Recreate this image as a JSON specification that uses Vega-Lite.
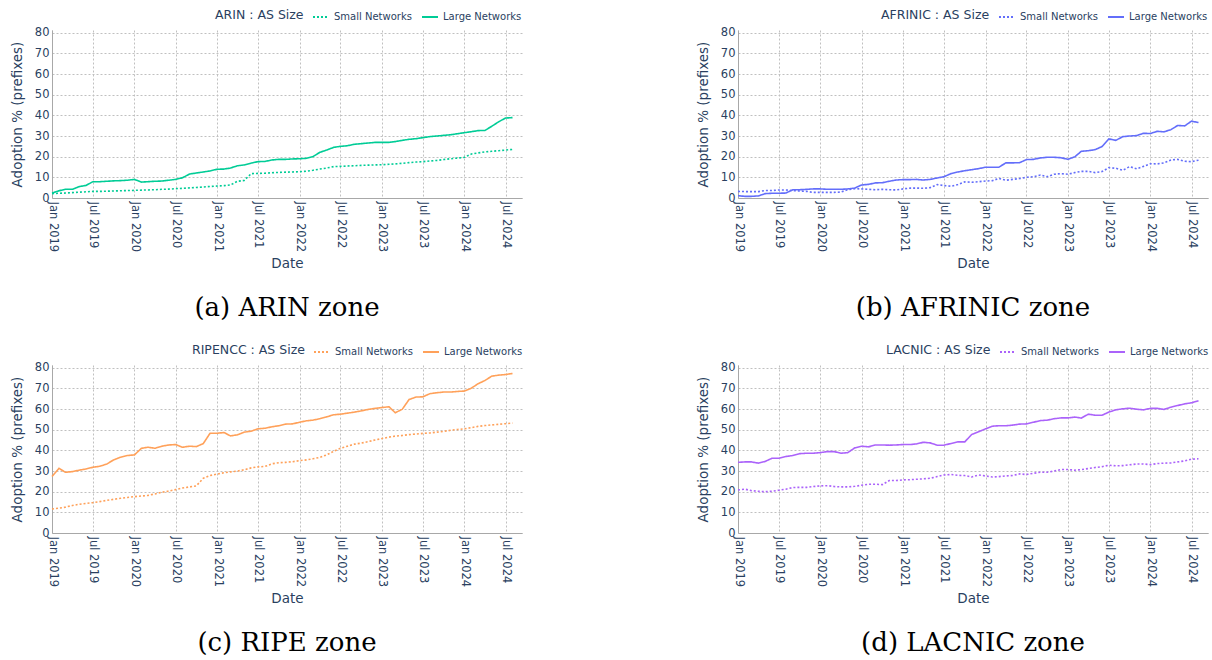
{
"$schema": "https://vega.github.io/schema/vega-lite/v6.json",
"padding": {"left": 10, "top": 8, "right": 0, "bottom": 0},
"background": "white",
"config": {
  "view": {"stroke": null},
  "font": "DejaVu Sans",
  "axis": {"labelFont": "DejaVu Sans", "labelFontSize": 11.5, "labelColor": "#2a3f5f", "titleFont": "DejaVu Sans", "titleFontSize": 13.5, "titleFontWeight": "normal", "titleColor": "#2a3f5f", "domainColor": "#a8a8a8", "domainWidth": 1, "gridColor": "#c0c0c0", "gridDash": [2, 2], "gridWidth": 1, "ticks": false, "labelPadding": 3, "labelFlush": false},
  "legend": {"titleFont": "DejaVu Sans", "titleFontSize": 12.5, "titleFontWeight": "normal", "titleColor": "#2a3f5f", "labelFont": "DejaVu Sans", "labelFontSize": 10, "labelColor": "#2a3f5f", "symbolType": "stroke", "symbolSize": 256, "symbolStrokeWidth": 2, "direction": "horizontal", "titleOrient": "left", "titlePadding": 8, "columnPadding": 6, "labelOffset": 4, "orient": "none"},
  "title": {"font": "DejaVu Serif", "fontSize": 26, "fontWeight": "normal", "color": "#000000", "orient": "bottom", "anchor": "middle", "frame": "group", "offset": 25}
},
"bounds": "flush",
"columns": 2,
"spacing": {"row": 167, "column": 216},
"resolve": {"scale": {"strokeDash": "independent"}, "legend": {"strokeDash": "independent"}},
"datasets": {
"arin": [
{"date":"2019-01","size":"Small Networks","value":2.1},{"date":"2019-02","size":"Small Networks","value":2.3},{"date":"2019-03","size":"Small Networks","value":2.4},{"date":"2019-04","size":"Small Networks","value":2.6},{"date":"2019-05","size":"Small Networks","value":2.8},{"date":"2019-06","size":"Small Networks","value":3.0},{"date":"2019-07","size":"Small Networks","value":3.2},{"date":"2019-08","size":"Small Networks","value":3.2},{"date":"2019-09","size":"Small Networks","value":3.3},{"date":"2019-10","size":"Small Networks","value":3.4},{"date":"2019-11","size":"Small Networks","value":3.5},{"date":"2019-12","size":"Small Networks","value":3.6},
{"date":"2020-01","size":"Small Networks","value":3.7},{"date":"2020-02","size":"Small Networks","value":3.8},{"date":"2020-03","size":"Small Networks","value":3.9},{"date":"2020-04","size":"Small Networks","value":4.0},{"date":"2020-05","size":"Small Networks","value":4.2},{"date":"2020-06","size":"Small Networks","value":4.3},{"date":"2020-07","size":"Small Networks","value":4.5},{"date":"2020-08","size":"Small Networks","value":4.7},{"date":"2020-09","size":"Small Networks","value":4.9},{"date":"2020-10","size":"Small Networks","value":5.1},{"date":"2020-11","size":"Small Networks","value":5.3},{"date":"2020-12","size":"Small Networks","value":5.6},
{"date":"2021-01","size":"Small Networks","value":5.8},{"date":"2021-02","size":"Small Networks","value":6.0},{"date":"2021-03","size":"Small Networks","value":6.3},{"date":"2021-04","size":"Small Networks","value":8.1},{"date":"2021-05","size":"Small Networks","value":8.5},{"date":"2021-06","size":"Small Networks","value":11.8},{"date":"2021-07","size":"Small Networks","value":11.9},{"date":"2021-08","size":"Small Networks","value":12.0},{"date":"2021-09","size":"Small Networks","value":12.2},{"date":"2021-10","size":"Small Networks","value":12.4},{"date":"2021-11","size":"Small Networks","value":12.5},{"date":"2021-12","size":"Small Networks","value":12.6},
{"date":"2022-01","size":"Small Networks","value":12.7},{"date":"2022-02","size":"Small Networks","value":13.0},{"date":"2022-03","size":"Small Networks","value":13.4},{"date":"2022-04","size":"Small Networks","value":14.0},{"date":"2022-05","size":"Small Networks","value":14.5},{"date":"2022-06","size":"Small Networks","value":15.2},{"date":"2022-07","size":"Small Networks","value":15.3},{"date":"2022-08","size":"Small Networks","value":15.5},{"date":"2022-09","size":"Small Networks","value":15.6},{"date":"2022-10","size":"Small Networks","value":15.8},{"date":"2022-11","size":"Small Networks","value":15.9},{"date":"2022-12","size":"Small Networks","value":16.0},
{"date":"2023-01","size":"Small Networks","value":16.1},{"date":"2023-02","size":"Small Networks","value":16.3},{"date":"2023-03","size":"Small Networks","value":16.5},{"date":"2023-04","size":"Small Networks","value":16.8},{"date":"2023-05","size":"Small Networks","value":17.1},{"date":"2023-06","size":"Small Networks","value":17.4},{"date":"2023-07","size":"Small Networks","value":17.6},{"date":"2023-08","size":"Small Networks","value":17.9},{"date":"2023-09","size":"Small Networks","value":18.2},{"date":"2023-10","size":"Small Networks","value":18.6},{"date":"2023-11","size":"Small Networks","value":19.0},{"date":"2023-12","size":"Small Networks","value":19.3},
{"date":"2024-01","size":"Small Networks","value":19.7},{"date":"2024-02","size":"Small Networks","value":21.3},{"date":"2024-03","size":"Small Networks","value":21.8},{"date":"2024-04","size":"Small Networks","value":22.3},{"date":"2024-05","size":"Small Networks","value":22.6},{"date":"2024-06","size":"Small Networks","value":22.9},{"date":"2024-07","size":"Small Networks","value":23.2},{"date":"2024-08","size":"Small Networks","value":23.5},
{"date":"2019-01","size":"Large Networks","value":2.4},{"date":"2019-02","size":"Large Networks","value":3.5},{"date":"2019-03","size":"Large Networks","value":4.2},{"date":"2019-04","size":"Large Networks","value":4.2},{"date":"2019-05","size":"Large Networks","value":5.5},{"date":"2019-06","size":"Large Networks","value":6.1},{"date":"2019-07","size":"Large Networks","value":7.9},{"date":"2019-08","size":"Large Networks","value":7.9},{"date":"2019-09","size":"Large Networks","value":8.1},{"date":"2019-10","size":"Large Networks","value":8.3},{"date":"2019-11","size":"Large Networks","value":8.4},{"date":"2019-12","size":"Large Networks","value":8.6},
{"date":"2020-01","size":"Large Networks","value":9.0},{"date":"2020-02","size":"Large Networks","value":7.7},{"date":"2020-03","size":"Large Networks","value":7.9},{"date":"2020-04","size":"Large Networks","value":8.1},{"date":"2020-05","size":"Large Networks","value":8.2},{"date":"2020-06","size":"Large Networks","value":8.6},{"date":"2020-07","size":"Large Networks","value":9.0},{"date":"2020-08","size":"Large Networks","value":9.8},{"date":"2020-09","size":"Large Networks","value":11.6},{"date":"2020-10","size":"Large Networks","value":12.1},{"date":"2020-11","size":"Large Networks","value":12.6},{"date":"2020-12","size":"Large Networks","value":13.1},
{"date":"2021-01","size":"Large Networks","value":13.9},{"date":"2021-02","size":"Large Networks","value":14.0},{"date":"2021-03","size":"Large Networks","value":14.5},{"date":"2021-04","size":"Large Networks","value":15.6},{"date":"2021-05","size":"Large Networks","value":16.0},{"date":"2021-06","size":"Large Networks","value":16.9},{"date":"2021-07","size":"Large Networks","value":17.6},{"date":"2021-08","size":"Large Networks","value":17.7},{"date":"2021-09","size":"Large Networks","value":18.4},{"date":"2021-10","size":"Large Networks","value":18.7},{"date":"2021-11","size":"Large Networks","value":18.7},{"date":"2021-12","size":"Large Networks","value":18.9},
{"date":"2022-01","size":"Large Networks","value":19.0},{"date":"2022-02","size":"Large Networks","value":19.2},{"date":"2022-03","size":"Large Networks","value":20.0},{"date":"2022-04","size":"Large Networks","value":22.1},{"date":"2022-05","size":"Large Networks","value":23.2},{"date":"2022-06","size":"Large Networks","value":24.5},{"date":"2022-07","size":"Large Networks","value":25.0},{"date":"2022-08","size":"Large Networks","value":25.3},{"date":"2022-09","size":"Large Networks","value":26.0},{"date":"2022-10","size":"Large Networks","value":26.3},{"date":"2022-11","size":"Large Networks","value":26.6},{"date":"2022-12","size":"Large Networks","value":26.9},
{"date":"2023-01","size":"Large Networks","value":26.9},{"date":"2023-02","size":"Large Networks","value":26.9},{"date":"2023-03","size":"Large Networks","value":27.3},{"date":"2023-04","size":"Large Networks","value":27.9},{"date":"2023-05","size":"Large Networks","value":28.4},{"date":"2023-06","size":"Large Networks","value":28.7},{"date":"2023-07","size":"Large Networks","value":29.2},{"date":"2023-08","size":"Large Networks","value":29.7},{"date":"2023-09","size":"Large Networks","value":30.0},{"date":"2023-10","size":"Large Networks","value":30.3},{"date":"2023-11","size":"Large Networks","value":30.6},{"date":"2023-12","size":"Large Networks","value":31.1},
{"date":"2024-01","size":"Large Networks","value":31.6},{"date":"2024-02","size":"Large Networks","value":32.1},{"date":"2024-03","size":"Large Networks","value":32.6},{"date":"2024-04","size":"Large Networks","value":32.7},{"date":"2024-05","size":"Large Networks","value":34.7},{"date":"2024-06","size":"Large Networks","value":36.9},{"date":"2024-07","size":"Large Networks","value":38.7},{"date":"2024-08","size":"Large Networks","value":38.9}
],
"afrinic": [
{"date":"2019-01","size":"Small Networks","value":3.2},{"date":"2019-02","size":"Small Networks","value":3.1},{"date":"2019-03","size":"Small Networks","value":3.1},{"date":"2019-04","size":"Small Networks","value":3.1},{"date":"2019-05","size":"Small Networks","value":3.6},{"date":"2019-06","size":"Small Networks","value":3.6},{"date":"2019-07","size":"Small Networks","value":3.9},{"date":"2019-08","size":"Small Networks","value":3.9},{"date":"2019-09","size":"Small Networks","value":3.6},{"date":"2019-10","size":"Small Networks","value":3.4},{"date":"2019-11","size":"Small Networks","value":3.2},{"date":"2019-12","size":"Small Networks","value":2.7},
{"date":"2020-01","size":"Small Networks","value":2.7},{"date":"2020-02","size":"Small Networks","value":2.7},{"date":"2020-03","size":"Small Networks","value":2.7},{"date":"2020-04","size":"Small Networks","value":2.9},{"date":"2020-05","size":"Small Networks","value":4.0},{"date":"2020-06","size":"Small Networks","value":4.5},{"date":"2020-07","size":"Small Networks","value":4.4},{"date":"2020-08","size":"Small Networks","value":4.2},{"date":"2020-09","size":"Small Networks","value":4.0},{"date":"2020-10","size":"Small Networks","value":4.2},{"date":"2020-11","size":"Small Networks","value":4.0},{"date":"2020-12","size":"Small Networks","value":3.9},
{"date":"2021-01","size":"Small Networks","value":4.4},{"date":"2021-02","size":"Small Networks","value":4.8},{"date":"2021-03","size":"Small Networks","value":4.8},{"date":"2021-04","size":"Small Networks","value":4.7},{"date":"2021-05","size":"Small Networks","value":5.0},{"date":"2021-06","size":"Small Networks","value":6.5},{"date":"2021-07","size":"Small Networks","value":6.0},{"date":"2021-08","size":"Small Networks","value":5.7},{"date":"2021-09","size":"Small Networks","value":6.5},{"date":"2021-10","size":"Small Networks","value":7.8},{"date":"2021-11","size":"Small Networks","value":7.6},{"date":"2021-12","size":"Small Networks","value":7.9},
{"date":"2022-01","size":"Small Networks","value":8.2},{"date":"2022-02","size":"Small Networks","value":8.4},{"date":"2022-03","size":"Small Networks","value":9.5},{"date":"2022-04","size":"Small Networks","value":8.6},{"date":"2022-05","size":"Small Networks","value":9.0},{"date":"2022-06","size":"Small Networks","value":9.4},{"date":"2022-07","size":"Small Networks","value":10.0},{"date":"2022-08","size":"Small Networks","value":10.3},{"date":"2022-09","size":"Small Networks","value":11.1},{"date":"2022-10","size":"Small Networks","value":10.3},{"date":"2022-11","size":"Small Networks","value":11.5},{"date":"2022-12","size":"Small Networks","value":11.8},
{"date":"2023-01","size":"Small Networks","value":11.5},{"date":"2023-02","size":"Small Networks","value":12.3},{"date":"2023-03","size":"Small Networks","value":12.9},{"date":"2023-04","size":"Small Networks","value":12.9},{"date":"2023-05","size":"Small Networks","value":12.3},{"date":"2023-06","size":"Small Networks","value":12.8},{"date":"2023-07","size":"Small Networks","value":14.7},{"date":"2023-08","size":"Small Networks","value":14.4},{"date":"2023-09","size":"Small Networks","value":13.4},{"date":"2023-10","size":"Small Networks","value":15.2},{"date":"2023-11","size":"Small Networks","value":14.1},{"date":"2023-12","size":"Small Networks","value":15.3},
{"date":"2024-01","size":"Small Networks","value":16.6},{"date":"2024-02","size":"Small Networks","value":16.5},{"date":"2024-03","size":"Small Networks","value":17.0},{"date":"2024-04","size":"Small Networks","value":18.4},{"date":"2024-05","size":"Small Networks","value":18.7},{"date":"2024-06","size":"Small Networks","value":17.8},{"date":"2024-07","size":"Small Networks","value":17.6},{"date":"2024-08","size":"Small Networks","value":18.3},
{"date":"2019-01","size":"Large Networks","value":1.1},{"date":"2019-02","size":"Large Networks","value":0.8},{"date":"2019-03","size":"Large Networks","value":0.8},{"date":"2019-04","size":"Large Networks","value":1.0},{"date":"2019-05","size":"Large Networks","value":2.1},{"date":"2019-06","size":"Large Networks","value":2.3},{"date":"2019-07","size":"Large Networks","value":2.3},{"date":"2019-08","size":"Large Networks","value":2.4},{"date":"2019-09","size":"Large Networks","value":4.0},{"date":"2019-10","size":"Large Networks","value":4.0},{"date":"2019-11","size":"Large Networks","value":4.2},{"date":"2019-12","size":"Large Networks","value":4.4},
{"date":"2020-01","size":"Large Networks","value":4.4},{"date":"2020-02","size":"Large Networks","value":4.2},{"date":"2020-03","size":"Large Networks","value":4.2},{"date":"2020-04","size":"Large Networks","value":4.2},{"date":"2020-05","size":"Large Networks","value":4.4},{"date":"2020-06","size":"Large Networks","value":4.8},{"date":"2020-07","size":"Large Networks","value":6.3},{"date":"2020-08","size":"Large Networks","value":6.6},{"date":"2020-09","size":"Large Networks","value":7.3},{"date":"2020-10","size":"Large Networks","value":7.4},{"date":"2020-11","size":"Large Networks","value":8.1},{"date":"2020-12","size":"Large Networks","value":8.7},
{"date":"2021-01","size":"Large Networks","value":8.9},{"date":"2021-02","size":"Large Networks","value":8.9},{"date":"2021-03","size":"Large Networks","value":9.0},{"date":"2021-04","size":"Large Networks","value":8.7},{"date":"2021-05","size":"Large Networks","value":9.0},{"date":"2021-06","size":"Large Networks","value":9.7},{"date":"2021-07","size":"Large Networks","value":10.3},{"date":"2021-08","size":"Large Networks","value":11.8},{"date":"2021-09","size":"Large Networks","value":12.6},{"date":"2021-10","size":"Large Networks","value":13.2},{"date":"2021-11","size":"Large Networks","value":13.7},{"date":"2021-12","size":"Large Networks","value":14.2},
{"date":"2022-01","size":"Large Networks","value":14.9},{"date":"2022-02","size":"Large Networks","value":14.9},{"date":"2022-03","size":"Large Networks","value":14.9},{"date":"2022-04","size":"Large Networks","value":17.0},{"date":"2022-05","size":"Large Networks","value":17.0},{"date":"2022-06","size":"Large Networks","value":17.1},{"date":"2022-07","size":"Large Networks","value":18.6},{"date":"2022-08","size":"Large Networks","value":18.7},{"date":"2022-09","size":"Large Networks","value":19.4},{"date":"2022-10","size":"Large Networks","value":19.7},{"date":"2022-11","size":"Large Networks","value":19.7},{"date":"2022-12","size":"Large Networks","value":19.5},
{"date":"2023-01","size":"Large Networks","value":18.7},{"date":"2023-02","size":"Large Networks","value":20.0},{"date":"2023-03","size":"Large Networks","value":22.6},{"date":"2023-04","size":"Large Networks","value":22.9},{"date":"2023-05","size":"Large Networks","value":23.4},{"date":"2023-06","size":"Large Networks","value":24.9},{"date":"2023-07","size":"Large Networks","value":28.6},{"date":"2023-08","size":"Large Networks","value":27.9},{"date":"2023-09","size":"Large Networks","value":29.7},{"date":"2023-10","size":"Large Networks","value":30.0},{"date":"2023-11","size":"Large Networks","value":30.2},{"date":"2023-12","size":"Large Networks","value":31.3},
{"date":"2024-01","size":"Large Networks","value":31.2},{"date":"2024-02","size":"Large Networks","value":32.3},{"date":"2024-03","size":"Large Networks","value":32.0},{"date":"2024-04","size":"Large Networks","value":33.1},{"date":"2024-05","size":"Large Networks","value":35.1},{"date":"2024-06","size":"Large Networks","value":34.9},{"date":"2024-07","size":"Large Networks","value":37.2},{"date":"2024-08","size":"Large Networks","value":36.5}
],
"ripe": [
{"date":"2019-01","size":"Small Networks","value":11.6},{"date":"2019-02","size":"Small Networks","value":12.0},{"date":"2019-03","size":"Small Networks","value":12.5},{"date":"2019-04","size":"Small Networks","value":13.3},{"date":"2019-05","size":"Small Networks","value":13.9},{"date":"2019-06","size":"Small Networks","value":14.3},{"date":"2019-07","size":"Small Networks","value":14.7},{"date":"2019-08","size":"Small Networks","value":15.2},{"date":"2019-09","size":"Small Networks","value":15.8},{"date":"2019-10","size":"Small Networks","value":16.3},{"date":"2019-11","size":"Small Networks","value":16.8},{"date":"2019-12","size":"Small Networks","value":17.2},
{"date":"2020-01","size":"Small Networks","value":17.6},{"date":"2020-02","size":"Small Networks","value":17.9},{"date":"2020-03","size":"Small Networks","value":18.2},{"date":"2020-04","size":"Small Networks","value":18.9},{"date":"2020-05","size":"Small Networks","value":19.7},{"date":"2020-06","size":"Small Networks","value":20.3},{"date":"2020-07","size":"Small Networks","value":21.0},{"date":"2020-08","size":"Small Networks","value":21.8},{"date":"2020-09","size":"Small Networks","value":22.3},{"date":"2020-10","size":"Small Networks","value":22.8},{"date":"2020-11","size":"Small Networks","value":26.5},{"date":"2020-12","size":"Small Networks","value":27.8},
{"date":"2021-01","size":"Small Networks","value":28.5},{"date":"2021-02","size":"Small Networks","value":29.2},{"date":"2021-03","size":"Small Networks","value":29.6},{"date":"2021-04","size":"Small Networks","value":30.0},{"date":"2021-05","size":"Small Networks","value":30.6},{"date":"2021-06","size":"Small Networks","value":31.5},{"date":"2021-07","size":"Small Networks","value":32.0},{"date":"2021-08","size":"Small Networks","value":32.2},{"date":"2021-09","size":"Small Networks","value":33.5},{"date":"2021-10","size":"Small Networks","value":34.0},{"date":"2021-11","size":"Small Networks","value":34.2},{"date":"2021-12","size":"Small Networks","value":34.5},
{"date":"2022-01","size":"Small Networks","value":35.0},{"date":"2022-02","size":"Small Networks","value":35.4},{"date":"2022-03","size":"Small Networks","value":35.9},{"date":"2022-04","size":"Small Networks","value":36.6},{"date":"2022-05","size":"Small Networks","value":37.8},{"date":"2022-06","size":"Small Networks","value":39.5},{"date":"2022-07","size":"Small Networks","value":41.0},{"date":"2022-08","size":"Small Networks","value":42.0},{"date":"2022-09","size":"Small Networks","value":43.0},{"date":"2022-10","size":"Small Networks","value":43.5},{"date":"2022-11","size":"Small Networks","value":44.2},{"date":"2022-12","size":"Small Networks","value":45.0},
{"date":"2023-01","size":"Small Networks","value":45.7},{"date":"2023-02","size":"Small Networks","value":46.4},{"date":"2023-03","size":"Small Networks","value":46.9},{"date":"2023-04","size":"Small Networks","value":47.2},{"date":"2023-05","size":"Small Networks","value":47.6},{"date":"2023-06","size":"Small Networks","value":47.9},{"date":"2023-07","size":"Small Networks","value":48.2},{"date":"2023-08","size":"Small Networks","value":48.4},{"date":"2023-09","size":"Small Networks","value":48.8},{"date":"2023-10","size":"Small Networks","value":49.2},{"date":"2023-11","size":"Small Networks","value":49.7},{"date":"2023-12","size":"Small Networks","value":50.1},
{"date":"2024-01","size":"Small Networks","value":50.4},{"date":"2024-02","size":"Small Networks","value":51.0},{"date":"2024-03","size":"Small Networks","value":51.6},{"date":"2024-04","size":"Small Networks","value":52.0},{"date":"2024-05","size":"Small Networks","value":52.3},{"date":"2024-06","size":"Small Networks","value":52.6},{"date":"2024-07","size":"Small Networks","value":52.9},{"date":"2024-08","size":"Small Networks","value":53.2},
{"date":"2019-01","size":"Large Networks","value":27.3},{"date":"2019-02","size":"Large Networks","value":31.3},{"date":"2019-03","size":"Large Networks","value":29.4},{"date":"2019-04","size":"Large Networks","value":29.7},{"date":"2019-05","size":"Large Networks","value":30.4},{"date":"2019-06","size":"Large Networks","value":31.0},{"date":"2019-07","size":"Large Networks","value":31.8},{"date":"2019-08","size":"Large Networks","value":32.3},{"date":"2019-09","size":"Large Networks","value":33.4},{"date":"2019-10","size":"Large Networks","value":35.4},{"date":"2019-11","size":"Large Networks","value":36.7},{"date":"2019-12","size":"Large Networks","value":37.5},
{"date":"2020-01","size":"Large Networks","value":37.8},{"date":"2020-02","size":"Large Networks","value":41.0},{"date":"2020-03","size":"Large Networks","value":41.5},{"date":"2020-04","size":"Large Networks","value":41.0},{"date":"2020-05","size":"Large Networks","value":42.0},{"date":"2020-06","size":"Large Networks","value":42.6},{"date":"2020-07","size":"Large Networks","value":42.8},{"date":"2020-08","size":"Large Networks","value":41.5},{"date":"2020-09","size":"Large Networks","value":42.0},{"date":"2020-10","size":"Large Networks","value":41.8},{"date":"2020-11","size":"Large Networks","value":43.3},{"date":"2020-12","size":"Large Networks","value":48.3},
{"date":"2021-01","size":"Large Networks","value":48.3},{"date":"2021-02","size":"Large Networks","value":48.6},{"date":"2021-03","size":"Large Networks","value":47.0},{"date":"2021-04","size":"Large Networks","value":47.5},{"date":"2021-05","size":"Large Networks","value":48.8},{"date":"2021-06","size":"Large Networks","value":49.3},{"date":"2021-07","size":"Large Networks","value":50.4},{"date":"2021-08","size":"Large Networks","value":50.7},{"date":"2021-09","size":"Large Networks","value":51.4},{"date":"2021-10","size":"Large Networks","value":51.9},{"date":"2021-11","size":"Large Networks","value":52.7},{"date":"2021-12","size":"Large Networks","value":52.8},
{"date":"2022-01","size":"Large Networks","value":53.6},{"date":"2022-02","size":"Large Networks","value":54.3},{"date":"2022-03","size":"Large Networks","value":54.6},{"date":"2022-04","size":"Large Networks","value":55.3},{"date":"2022-05","size":"Large Networks","value":56.2},{"date":"2022-06","size":"Large Networks","value":57.2},{"date":"2022-07","size":"Large Networks","value":57.5},{"date":"2022-08","size":"Large Networks","value":58.0},{"date":"2022-09","size":"Large Networks","value":58.5},{"date":"2022-10","size":"Large Networks","value":59.1},{"date":"2022-11","size":"Large Networks","value":59.8},{"date":"2022-12","size":"Large Networks","value":60.3},
{"date":"2023-01","size":"Large Networks","value":60.7},{"date":"2023-02","size":"Large Networks","value":61.1},{"date":"2023-03","size":"Large Networks","value":58.2},{"date":"2023-04","size":"Large Networks","value":59.9},{"date":"2023-05","size":"Large Networks","value":64.6},{"date":"2023-06","size":"Large Networks","value":65.8},{"date":"2023-07","size":"Large Networks","value":65.9},{"date":"2023-08","size":"Large Networks","value":67.4},{"date":"2023-09","size":"Large Networks","value":67.9},{"date":"2023-10","size":"Large Networks","value":68.2},{"date":"2023-11","size":"Large Networks","value":68.2},{"date":"2023-12","size":"Large Networks","value":68.5},
{"date":"2024-01","size":"Large Networks","value":68.7},{"date":"2024-02","size":"Large Networks","value":70.1},{"date":"2024-03","size":"Large Networks","value":72.2},{"date":"2024-04","size":"Large Networks","value":73.8},{"date":"2024-05","size":"Large Networks","value":75.9},{"date":"2024-06","size":"Large Networks","value":76.4},{"date":"2024-07","size":"Large Networks","value":76.7},{"date":"2024-08","size":"Large Networks","value":77.2}
],
"lacnic": [
{"date":"2019-01","size":"Small Networks","value":20.8},{"date":"2019-02","size":"Small Networks","value":21.2},{"date":"2019-03","size":"Small Networks","value":20.5},{"date":"2019-04","size":"Small Networks","value":20.2},{"date":"2019-05","size":"Small Networks","value":20.0},{"date":"2019-06","size":"Small Networks","value":20.2},{"date":"2019-07","size":"Small Networks","value":20.7},{"date":"2019-08","size":"Small Networks","value":21.2},{"date":"2019-09","size":"Small Networks","value":22.0},{"date":"2019-10","size":"Small Networks","value":22.1},{"date":"2019-11","size":"Small Networks","value":22.1},{"date":"2019-12","size":"Small Networks","value":22.5},
{"date":"2020-01","size":"Small Networks","value":22.8},{"date":"2020-02","size":"Small Networks","value":22.9},{"date":"2020-03","size":"Small Networks","value":22.5},{"date":"2020-04","size":"Small Networks","value":22.3},{"date":"2020-05","size":"Small Networks","value":22.3},{"date":"2020-06","size":"Small Networks","value":22.6},{"date":"2020-07","size":"Small Networks","value":23.1},{"date":"2020-08","size":"Small Networks","value":23.6},{"date":"2020-09","size":"Small Networks","value":23.6},{"date":"2020-10","size":"Small Networks","value":23.4},{"date":"2020-11","size":"Small Networks","value":25.4},{"date":"2020-12","size":"Small Networks","value":25.4},
{"date":"2021-01","size":"Small Networks","value":25.7},{"date":"2021-02","size":"Small Networks","value":25.8},{"date":"2021-03","size":"Small Networks","value":26.0},{"date":"2021-04","size":"Small Networks","value":26.2},{"date":"2021-05","size":"Small Networks","value":26.5},{"date":"2021-06","size":"Small Networks","value":27.3},{"date":"2021-07","size":"Small Networks","value":28.1},{"date":"2021-08","size":"Small Networks","value":28.3},{"date":"2021-09","size":"Small Networks","value":27.9},{"date":"2021-10","size":"Small Networks","value":27.8},{"date":"2021-11","size":"Small Networks","value":27.1},{"date":"2021-12","size":"Small Networks","value":28.1},
{"date":"2022-01","size":"Small Networks","value":27.6},{"date":"2022-02","size":"Small Networks","value":27.1},{"date":"2022-03","size":"Small Networks","value":27.3},{"date":"2022-04","size":"Small Networks","value":27.6},{"date":"2022-05","size":"Small Networks","value":27.8},{"date":"2022-06","size":"Small Networks","value":28.6},{"date":"2022-07","size":"Small Networks","value":28.3},{"date":"2022-08","size":"Small Networks","value":28.9},{"date":"2022-09","size":"Small Networks","value":29.4},{"date":"2022-10","size":"Small Networks","value":29.4},{"date":"2022-11","size":"Small Networks","value":30.0},{"date":"2022-12","size":"Small Networks","value":30.7},
{"date":"2023-01","size":"Small Networks","value":30.7},{"date":"2023-02","size":"Small Networks","value":30.4},{"date":"2023-03","size":"Small Networks","value":30.7},{"date":"2023-04","size":"Small Networks","value":31.2},{"date":"2023-05","size":"Small Networks","value":31.7},{"date":"2023-06","size":"Small Networks","value":32.1},{"date":"2023-07","size":"Small Networks","value":32.8},{"date":"2023-08","size":"Small Networks","value":32.5},{"date":"2023-09","size":"Small Networks","value":32.6},{"date":"2023-10","size":"Small Networks","value":33.0},{"date":"2023-11","size":"Small Networks","value":33.4},{"date":"2023-12","size":"Small Networks","value":33.4},
{"date":"2024-01","size":"Small Networks","value":33.1},{"date":"2024-02","size":"Small Networks","value":33.6},{"date":"2024-03","size":"Small Networks","value":33.8},{"date":"2024-04","size":"Small Networks","value":33.9},{"date":"2024-05","size":"Small Networks","value":34.4},{"date":"2024-06","size":"Small Networks","value":34.9},{"date":"2024-07","size":"Small Networks","value":35.7},{"date":"2024-08","size":"Small Networks","value":35.9},
{"date":"2019-01","size":"Large Networks","value":34.2},{"date":"2019-02","size":"Large Networks","value":34.4},{"date":"2019-03","size":"Large Networks","value":34.4},{"date":"2019-04","size":"Large Networks","value":33.8},{"date":"2019-05","size":"Large Networks","value":34.6},{"date":"2019-06","size":"Large Networks","value":36.2},{"date":"2019-07","size":"Large Networks","value":36.2},{"date":"2019-08","size":"Large Networks","value":37.0},{"date":"2019-09","size":"Large Networks","value":37.5},{"date":"2019-10","size":"Large Networks","value":38.4},{"date":"2019-11","size":"Large Networks","value":38.6},{"date":"2019-12","size":"Large Networks","value":38.6},
{"date":"2020-01","size":"Large Networks","value":38.9},{"date":"2020-02","size":"Large Networks","value":39.4},{"date":"2020-03","size":"Large Networks","value":39.4},{"date":"2020-04","size":"Large Networks","value":38.6},{"date":"2020-05","size":"Large Networks","value":38.9},{"date":"2020-06","size":"Large Networks","value":41.2},{"date":"2020-07","size":"Large Networks","value":42.0},{"date":"2020-08","size":"Large Networks","value":41.7},{"date":"2020-09","size":"Large Networks","value":42.6},{"date":"2020-10","size":"Large Networks","value":42.6},{"date":"2020-11","size":"Large Networks","value":42.5},{"date":"2020-12","size":"Large Networks","value":42.6},
{"date":"2021-01","size":"Large Networks","value":42.8},{"date":"2021-02","size":"Large Networks","value":42.8},{"date":"2021-03","size":"Large Networks","value":43.1},{"date":"2021-04","size":"Large Networks","value":43.9},{"date":"2021-05","size":"Large Networks","value":43.6},{"date":"2021-06","size":"Large Networks","value":42.5},{"date":"2021-07","size":"Large Networks","value":42.5},{"date":"2021-08","size":"Large Networks","value":43.3},{"date":"2021-09","size":"Large Networks","value":44.1},{"date":"2021-10","size":"Large Networks","value":44.1},{"date":"2021-11","size":"Large Networks","value":47.7},{"date":"2021-12","size":"Large Networks","value":49.0},
{"date":"2022-01","size":"Large Networks","value":50.4},{"date":"2022-02","size":"Large Networks","value":51.7},{"date":"2022-03","size":"Large Networks","value":51.9},{"date":"2022-04","size":"Large Networks","value":51.9},{"date":"2022-05","size":"Large Networks","value":52.2},{"date":"2022-06","size":"Large Networks","value":52.7},{"date":"2022-07","size":"Large Networks","value":52.8},{"date":"2022-08","size":"Large Networks","value":53.6},{"date":"2022-09","size":"Large Networks","value":54.4},{"date":"2022-10","size":"Large Networks","value":54.6},{"date":"2022-11","size":"Large Networks","value":55.3},{"date":"2022-12","size":"Large Networks","value":55.7},
{"date":"2023-01","size":"Large Networks","value":55.7},{"date":"2023-02","size":"Large Networks","value":56.1},{"date":"2023-03","size":"Large Networks","value":55.6},{"date":"2023-04","size":"Large Networks","value":57.5},{"date":"2023-05","size":"Large Networks","value":57.0},{"date":"2023-06","size":"Large Networks","value":57.0},{"date":"2023-07","size":"Large Networks","value":58.5},{"date":"2023-08","size":"Large Networks","value":59.6},{"date":"2023-09","size":"Large Networks","value":60.1},{"date":"2023-10","size":"Large Networks","value":60.4},{"date":"2023-11","size":"Large Networks","value":59.9},{"date":"2023-12","size":"Large Networks","value":59.6},
{"date":"2024-01","size":"Large Networks","value":60.3},{"date":"2024-02","size":"Large Networks","value":60.3},{"date":"2024-03","size":"Large Networks","value":59.8},{"date":"2024-04","size":"Large Networks","value":60.9},{"date":"2024-05","size":"Large Networks","value":61.7},{"date":"2024-06","size":"Large Networks","value":62.5},{"date":"2024-07","size":"Large Networks","value":63.0},{"date":"2024-08","size":"Large Networks","value":64.0}
]
},
"concat": [
{
 "width": 470, "height": 168,
 "data": {"name": "arin"},
 "title": {"text": "(a) ARIN zone"},
 "mark": {"type": "line", "color": "#00cc96", "strokeWidth": 1.6},
 "encoding": {
  "x": {"field": "date", "type": "temporal", "scale": {"type": "utc", "domain": [{"year": 2019, "month": 1, "date": 1, "utc": true}, {"year": 2024, "month": 9, "date": 12, "utc": true}]}, "axis": {"title": "Date", "format": "%b %Y", "tickCount": {"interval": "month", "step": 6}, "labelAngle": 90, "titlePadding": 5}},
  "y": {"field": "value", "type": "quantitative", "scale": {"domain": [0, 81.3], "nice": false, "zero": true}, "axis": {"title": "Adoption % (prefixes)", "values": [0, 10, 20, 30, 40, 50, 60, 70, 80], "titlePadding": 10}},
  "strokeDash": {"field": "size", "type": "nominal", "scale": {"domain": ["Small Networks", "Large Networks"], "range": [[2, 2], [1, 0]]}, "legend": {"title": "ARIN : AS Size", "legendX": 163, "legendY": -22}}
 }
},
{
 "width": 470, "height": 168,
 "data": {"name": "afrinic"},
 "title": {"text": "(b) AFRINIC zone"},
 "mark": {"type": "line", "color": "#636efa", "strokeWidth": 1.6},
 "encoding": {
  "x": {"field": "date", "type": "temporal", "scale": {"type": "utc", "domain": [{"year": 2019, "month": 1, "date": 1, "utc": true}, {"year": 2024, "month": 9, "date": 12, "utc": true}]}, "axis": {"title": "Date", "format": "%b %Y", "tickCount": {"interval": "month", "step": 6}, "labelAngle": 90, "titlePadding": 5}},
  "y": {"field": "value", "type": "quantitative", "scale": {"domain": [0, 81.3], "nice": false, "zero": true}, "axis": {"title": "Adoption % (prefixes)", "values": [0, 10, 20, 30, 40, 50, 60, 70, 80], "titlePadding": 10}},
  "strokeDash": {"field": "size", "type": "nominal", "scale": {"domain": ["Small Networks", "Large Networks"], "range": [[2, 2], [1, 0]]}, "legend": {"title": "AFRINIC : AS Size", "legendX": 143, "legendY": -22}}
 }
},
{
 "width": 470, "height": 168,
 "data": {"name": "ripe"},
 "title": {"text": "(c) RIPE zone"},
 "mark": {"type": "line", "color": "#ffa15a", "strokeWidth": 1.6},
 "encoding": {
  "x": {"field": "date", "type": "temporal", "scale": {"type": "utc", "domain": [{"year": 2019, "month": 1, "date": 1, "utc": true}, {"year": 2024, "month": 9, "date": 12, "utc": true}]}, "axis": {"title": "Date", "format": "%b %Y", "tickCount": {"interval": "month", "step": 6}, "labelAngle": 90, "titlePadding": 5}},
  "y": {"field": "value", "type": "quantitative", "scale": {"domain": [0, 81.3], "nice": false, "zero": true}, "axis": {"title": "Adoption % (prefixes)", "values": [0, 10, 20, 30, 40, 50, 60, 70, 80], "titlePadding": 10}},
  "strokeDash": {"field": "size", "type": "nominal", "scale": {"domain": ["Small Networks", "Large Networks"], "range": [[2, 2], [1, 0]]}, "legend": {"title": "RIPENCC : AS Size", "legendX": 140, "legendY": -22}}
 }
},
{
 "width": 470, "height": 168,
 "data": {"name": "lacnic"},
 "title": {"text": "(d) LACNIC zone"},
 "mark": {"type": "line", "color": "#ab63fa", "strokeWidth": 1.6},
 "encoding": {
  "x": {"field": "date", "type": "temporal", "scale": {"type": "utc", "domain": [{"year": 2019, "month": 1, "date": 1, "utc": true}, {"year": 2024, "month": 9, "date": 12, "utc": true}]}, "axis": {"title": "Date", "format": "%b %Y", "tickCount": {"interval": "month", "step": 6}, "labelAngle": 90, "titlePadding": 5}},
  "y": {"field": "value", "type": "quantitative", "scale": {"domain": [0, 81.3], "nice": false, "zero": true}, "axis": {"title": "Adoption % (prefixes)", "values": [0, 10, 20, 30, 40, 50, 60, 70, 80], "titlePadding": 10}},
  "strokeDash": {"field": "size", "type": "nominal", "scale": {"domain": ["Small Networks", "Large Networks"], "range": [[2, 2], [1, 0]]}, "legend": {"title": "LACNIC : AS Size", "legendX": 148, "legendY": -22}}
 }
}
]
}
